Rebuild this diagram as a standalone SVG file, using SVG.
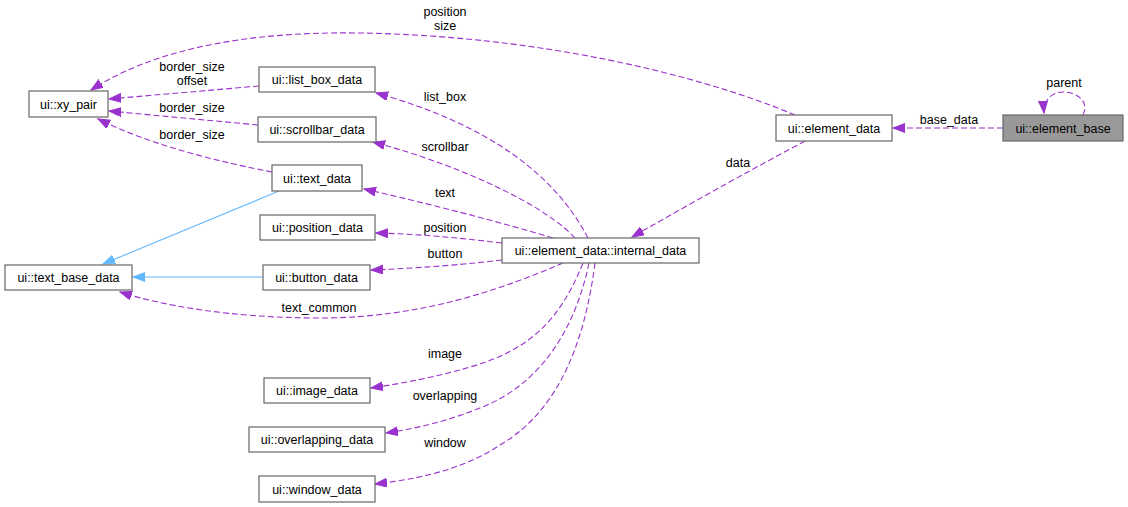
<svg xmlns="http://www.w3.org/2000/svg" width="1128" height="507" viewBox="0 0 1128 507">
<defs>
<style>
text{font-family:"Liberation Sans",Arial,Helvetica,sans-serif;font-size:12.5px;fill:#000;text-anchor:middle}
.node rect{fill:#fff;stroke:#666;stroke-width:1.2}
.node.cur rect{fill:#999}
.e{fill:none;stroke:#9a32cd;stroke-width:1.1;stroke-dasharray:6,3;marker-end:url(#ap)}
.i{fill:none;stroke:#63b8ff;stroke-width:1.1;marker-end:url(#ab)}
</style>
<marker id="ap" markerUnits="userSpaceOnUse" markerWidth="13" markerHeight="10" refX="12" refY="4.5" orient="auto">
<path d="M0,0 L12,4.5 L0,9 z" fill="#9a32cd" stroke="#9a32cd" stroke-width="1" stroke-dasharray="none"/>
</marker>
<marker id="ab" markerUnits="userSpaceOnUse" markerWidth="13" markerHeight="10" refX="12" refY="4.5" orient="auto">
<path d="M0,0 L12,4.5 L0,9 z" fill="#63b8ff" stroke="#63b8ff" stroke-width="1"/>
</marker>
</defs>
<rect width="1128" height="507" fill="#fff"/>
<g id="connectors">
<path class="e" d="M795,115 C700,75 540,36 360,33 C230,31 145,55 91,90"/>
<path class="e" d="M259,86 L109,99"/>
<path class="e" d="M258,125 L109,111"/>
<path class="e" d="M272,172 C220,162 150,145 98,119"/>
<path class="i" d="M279,191 L103,264"/>
<path class="i" d="M263,277 L133,277"/>
<path class="e" d="M588,238 C555,175 490,125 376,93"/>
<path class="e" d="M575,238 C545,205 460,165 373,142"/>
<path class="e" d="M553,238 C500,222 430,204 364,189"/>
<path class="e" d="M502,243 C460,238 420,234 376,233"/>
<path class="e" d="M502,260 C460,265 420,268 371,270"/>
<path class="e" d="M563,263 C500,290 420,318 320,318 C230,318 160,305 120,292"/>
<path class="e" d="M583,263 C560,320 530,350 470,367 C440,376 405,383 371,388"/>
<path class="e" d="M589,263 C575,330 540,385 480,408 C450,420 420,428 386,433"/>
<path class="e" d="M595,263 C585,340 560,410 500,445 C470,465 430,478 375,484"/>
<path class="e" d="M805,141 C760,165 700,198 632,237"/>
<path class="e" d="M1003,128 L893,128"/>
<path class="e" d="M1083,115 C1090,100 1075,92 1063,92 C1052,92 1043,100 1044,113"/>
<text x="445" y="16">position</text>
<text x="445" y="30">size</text>
<text x="192" y="71">border_size</text>
<text x="192" y="85">offset</text>
<text x="192" y="112">border_size</text>
<text x="192" y="139">border_size</text>
<text x="445" y="101">list_box</text>
<text x="445" y="151">scrollbar</text>
<text x="445" y="197">text</text>
<text x="445" y="232">position</text>
<text x="445" y="258">button</text>
<text x="319" y="312">text_common</text>
<text x="445" y="358">image</text>
<text x="445" y="400">overlapping</text>
<text x="445" y="447">window</text>
<text x="738" y="167">data</text>
<text x="949" y="124">base_data</text>
<text x="1064" y="87">parent</text>
</g>
<g id="n_xy_pair" class="node"><rect x="29" y="91" width="79" height="26"/><text x="68.5" y="108.5">ui::xy_pair</text></g>
<g id="n_list_box_data" class="node"><rect x="259" y="67" width="116" height="25"/><text x="317" y="84">ui::list_box_data</text></g>
<g id="n_scrollbar_data" class="node"><rect x="258" y="117" width="118" height="25"/><text x="317" y="134">ui::scrollbar_data</text></g>
<g id="n_text_data" class="node"><rect x="272" y="165" width="90" height="26"/><text x="317" y="182.5">ui::text_data</text></g>
<g id="n_position_data" class="node"><rect x="260" y="215" width="115" height="25"/><text x="317.5" y="232">ui::position_data</text></g>
<g id="n_text_base_data" class="node"><rect x="5" y="265" width="127" height="25"/><text x="68.5" y="282">ui::text_base_data</text></g>
<g id="n_button_data" class="node"><rect x="263" y="265" width="107" height="25"/><text x="316.5" y="282">ui::button_data</text></g>
<g id="n_internal_data" class="node"><rect x="502" y="238" width="197" height="25"/><text x="600.5" y="255">ui::element_data::internal_data</text></g>
<g id="n_element_data" class="node"><rect x="776" y="115" width="116" height="26"/><text x="834" y="132.5">ui::element_data</text></g>
<g id="n_element_base" class="node cur"><rect x="1003" y="115" width="120" height="26"/><text x="1063" y="132.5">ui::element_base</text></g>
<g id="n_image_data" class="node"><rect x="264" y="378" width="106" height="25"/><text x="317" y="395">ui::image_data</text></g>
<g id="n_overlapping_data" class="node"><rect x="249" y="427" width="136" height="25"/><text x="317" y="444">ui::overlapping_data</text></g>
<g id="n_window_data" class="node"><rect x="259" y="476" width="116" height="26"/><text x="317" y="493.5">ui::window_data</text></g>
</svg>
